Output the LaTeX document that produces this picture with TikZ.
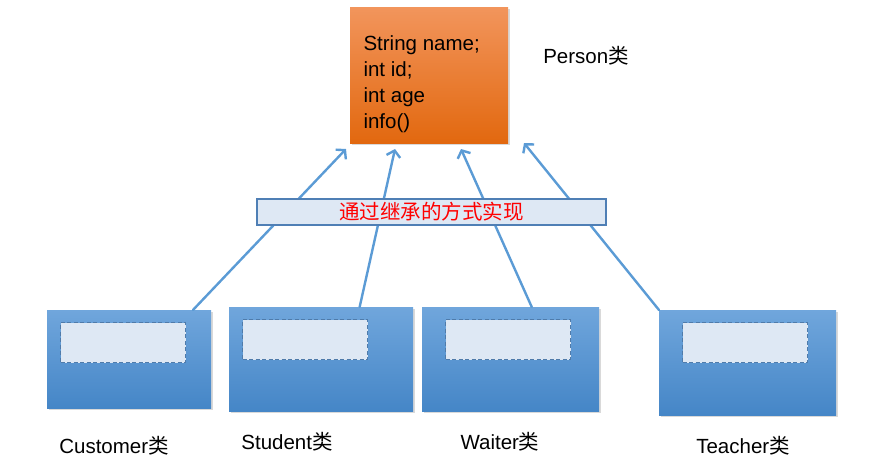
\documentclass[tikz,border=0pt]{standalone}
\usepackage{fontspec}
\setmainfont{Liberation Sans}
\newfontfamily\cjk{Noto Sans CJK SC}
\usetikzlibrary{calc,arrows.meta,positioning,shadows}

\definecolor{persontop}{HTML}{F2955C}
\definecolor{personbot}{HTML}{E2680F}
\definecolor{boxtop}{HTML}{70A6DC}
\definecolor{boxbot}{HTML}{4586C7}
\definecolor{slotfill}{HTML}{DEE8F4}
\definecolor{slotline}{HTML}{4F7BAA}
\definecolor{bannerline}{HTML}{4F7FB5}
\definecolor{linkblue}{HTML}{5B9BD5}

\begin{document}
\begin{tikzpicture} [x=1pt, y=-1pt,
    personbox/.style={top color=persontop, bottom color=personbot, inner sep=0pt, outer sep=0pt,
        drop shadow={shadow xshift=2pt, shadow yshift=-2pt, opacity=0.3}},
    classbox/.style={top color=boxtop, bottom color=boxbot, inner sep=0pt, outer sep=0pt,
        drop shadow={shadow xshift=2pt, shadow yshift=-2pt, opacity=0.3}},
    slot/.style={draw=slotline, dash pattern=on 4pt off 2.5pt, line width=1.3pt, fill=slotfill, anchor=north west, inner sep=0pt,
        minimum width=125pt, minimum height=40pt},
    inherit/.style={linkblue, line width=2.4pt, line cap=round, -{Straight Barb[length=6pt, width=14pt]}},
    banner/.style={draw=bannerline, line width=1.3pt, fill=slotfill, inner sep=0pt, minimum width=349pt, minimum height=26pt}
  ]

\tikzstyle{every node}=[font=\fontsize{20.5}{26}\selectfont]

\useasboundingbox (0,0) rectangle (893,463);

% parent class
\node[personbox, minimum width=158pt, minimum height=136pt] (person) at (429,75) {};
\node[anchor=west, align=left] (fields) at (360,84) {String name;\\int id;\\int age\\info()};
\node (personlabel) at (586,56) {Person{\cjk 类}};

% sub classes
\node[classbox, minimum width=164pt, minimum height=98pt] (customer) at (129,359) {};
\node[classbox, minimum width=184pt, minimum height=104pt] (student) at (321,359) {};
\node[classbox, minimum width=177pt, minimum height=104pt] (waiter) at (510.5,359) {};
\node[classbox, minimum width=177pt, minimum height=105pt] (teacher) at (747.5,362.5) {};

\node[slot] (customerslot) at ($(customer.north west)+(13,12)$) {};
\node[slot] (studentslot) at ($(student.north west)+(13,12)$) {};
\node[slot] (waiterslot) at ($(waiter.north west)+(23,12)$) {};
\node[slot] (teacherslot) at ($(teacher.north west)+(23,12)$) {};

\node (customerlabel) at (114,446) {Customer{\cjk 类}};
\node (studentlabel) at (287,442) {Student{\cjk 类}};
\node (waiterlabel) at (500,442) {Waiter{\cjk 类}};
\node (teacherlabel) at (743,446) {Teacher{\cjk 类}};

% inheritance arrows
\coordinate (tipa) at (346,149);
\coordinate (tipb) at (395,149);
\coordinate (tipc) at (461,149);
\coordinate (tipd) at (524,143);

\draw[inherit] ($(customer.north west)!0.89!(customer.north east)$) -- (tipa);
\draw[inherit] ($(student.north west)!0.71!(student.north east)$) -- (tipb);
\draw[inherit] ($(waiter.north west)!0.62!(waiter.north east)$) -- (tipc);
\draw[inherit] (teacher.north west) -- (tipd);

\node[banner] (via) at (431.5,212) {\cjk\color{red}通过继承的方式实现};

\end{tikzpicture}
\end{document}
